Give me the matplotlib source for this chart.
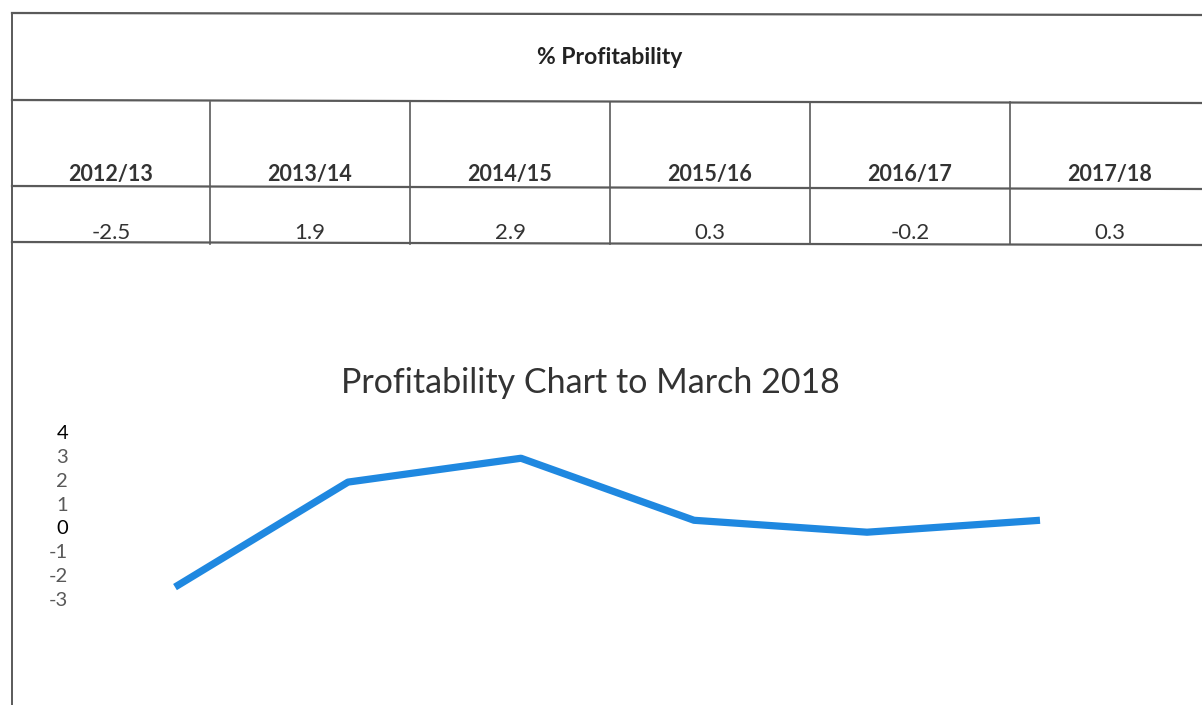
import matplotlib
matplotlib.use('Agg')
import matplotlib.pyplot as plt

years = ['2012/13', '2013/14', '2014/15', '2015/16', '2016/17', '2017/18']
profit = [-2.5, 1.9, 2.9, 0.3, -0.2, 0.3]
yticks = [4, 3, 2, 1, 0, -1, -2, -3]

W, H = 1202, 705
fig = plt.figure(figsize=(W / 100, H / 100), dpi=100)

# page overlay in pixel coordinates for the scanned table
pg = fig.add_axes([0, 0, 1, 1])
pg.set_xlim(0, W)
pg.set_ylim(H, 0)
pg.axis('off')

grid = '#5a5a5a'
col_x = [12, 210, 410, 610, 810, 1010, 1210]
pg.plot([12, W], [13, 15], color=grid, lw=1.6)
pg.plot([12, W], [100, 103], color=grid, lw=1.6)
pg.plot([12, W], [186, 189], color=grid, lw=1.6)
pg.plot([12, W], [242, 245], color=grid, lw=1.6)
pg.plot([12, 12], [13, H], color=grid, lw=1.4)
for x in col_x[1:-1]:
    pg.plot([x, x], [102, 244], color=grid, lw=1.2)

pg.text(610, 58, '% Profitability', ha='center', va='center',
        fontsize=16.5, fontweight='bold', family='Lato', color='#222222')
for i, (yr, v) in enumerate(zip(years, profit)):
    cx = (col_x[i] + col_x[i + 1]) / 2
    pg.text(cx, 174, yr, ha='center', va='center', fontsize=15.5,
            fontweight='bold', family='Lato', color='#333333')
    pg.text(cx, 233, f'{v:g}', ha='center', va='center', fontsize=16,
            family='Lato', color='#333333')

pg.text(590, 383, 'Profitability Chart to March 2018', ha='center',
        va='center', fontsize=24.5, family='Lato', color='#333333')

# the line chart itself
ax = fig.add_axes([175 / W, 1 - 599 / H, (1040 - 175) / W, (599 - 432) / H])
ax.plot(range(len(profit)), profit, color='#1f88e0', lw=5.2,
        solid_joinstyle='round', solid_capstyle='butt', clip_on=False)
ax.set_xlim(0, len(profit) - 1)
ax.set_ylim(-3, 4)
ax.set_yticks(yticks)
ax.set_yticklabels([str(t) for t in yticks], family='Lato', fontsize=14.5)
for t, lab in zip(yticks, ax.get_yticklabels()):
    lab.set_color('black' if t in (4, 0) else '#595959')
ax.tick_params(axis='y', length=0, pad=77)
ax.set_xticks([])
for s in ax.spines.values():
    s.set_visible(False)
ax.patch.set_alpha(0)

fig.savefig('out.png', dpi=100)
